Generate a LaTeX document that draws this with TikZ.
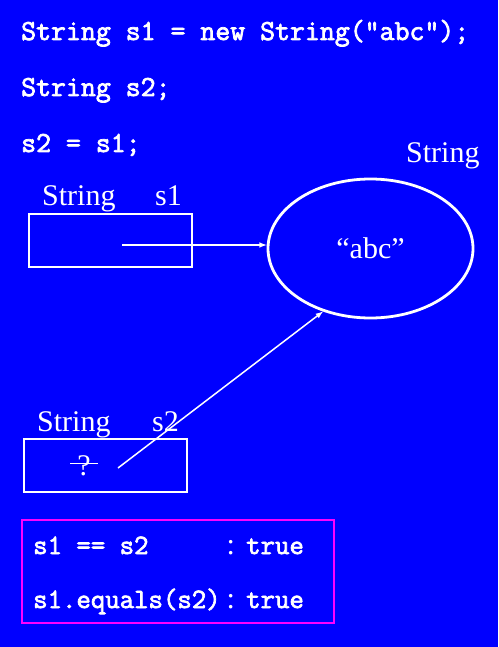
\documentclass[tikz,border=0pt]{standalone}
\usepackage{fontspec}
\setmainfont{Liberation Serif}
\setmonofont{Latin Modern Mono}[AutoFakeBold=2.5]
\usetikzlibrary{arrows,shapes}
\definecolor{slideblue}{RGB}{0,0,255}
\definecolor{framemag}{RGB}{255,0,255}

\begin{document}
\begin{tikzpicture}[x=1pt,y=-1pt]
    \tikzstyle{every node}+=[inner sep=0pt, text=white]
    \tikzstyle{code}=[anchor=base west, font=\fontsize{29}{29}\selectfont\ttfamily\bfseries]
    \tikzstyle{smallcode}=[anchor=base west, font=\fontsize{28}{28}\selectfont\ttfamily\bfseries]
    \tikzstyle{lbl}=[anchor=base west, font=\fontsize{30}{30}\selectfont]
    \tikzstyle{varbox}=[draw=white, line width=2.6pt, minimum width=163, minimum height=53]
    \tikzstyle{ref}=[white, line width=1.5pt, -latex]
    \fill [slideblue] (0,0) rectangle (498,647);
    \useasboundingbox (0,0) rectangle (498,647);
    % code lines
    \node [code] (line1) at (21,40) {String s1 = new String("abc");};
    \node [code] (line2) at (21,96) {String s2;};
    \node [code] (line3) at (21,152) {s2 = s1;};
    % the object
    \node [lbl] (objtype) at (406,163) {String};
    \node [ellipse, draw=white, line width=2.8pt, minimum width=205, minimum height=139,
           font=\fontsize{30}{30}\selectfont] (obj) at (370.5,248.5) {“abc”};
    % variable s1
    \node [lbl] (type1) at (42,205) {String};
    \node [lbl] (name1) at (155,205) {s1};
    \node [varbox] (box1) at (110.5,240.5) {};
    \coordinate (p1) at (122,245);
    \draw [ref] (p1) -- (p1 -| obj.west);
    % variable s2
    \node [lbl] (type2) at (37,431) {String};
    \node [lbl] (name2) at (152,431) {s2};
    \node [varbox] (box2) at (105.5,465.5) {};
    \node [lbl, anchor=base] (q) at (84,475) {?};
    \draw [white, line width=1.5pt] (q.west) ++(-7,-2) -- ++(28,0);
    \coordinate (p2) at (118,468);
    \draw [ref] (p2) -- (obj.233);
    % comparison
    \node [draw=framemag, line width=2pt, minimum width=312, minimum height=103] (cmp) at (178,571.5) {};
    \node [smallcode] (eq) at (33,554) {s1 == s2};
    \node [lbl] (col1) at (226.5,554) {:};
    \node [smallcode] (res1) at (246,554) {true};
    \node [smallcode] (equals) at (33,608) {s1.equals(s2)};
    \node [lbl] (col2) at (226.5,608) {:};
    \node [smallcode] (res2) at (246,608) {true};
\end{tikzpicture}
\end{document}
